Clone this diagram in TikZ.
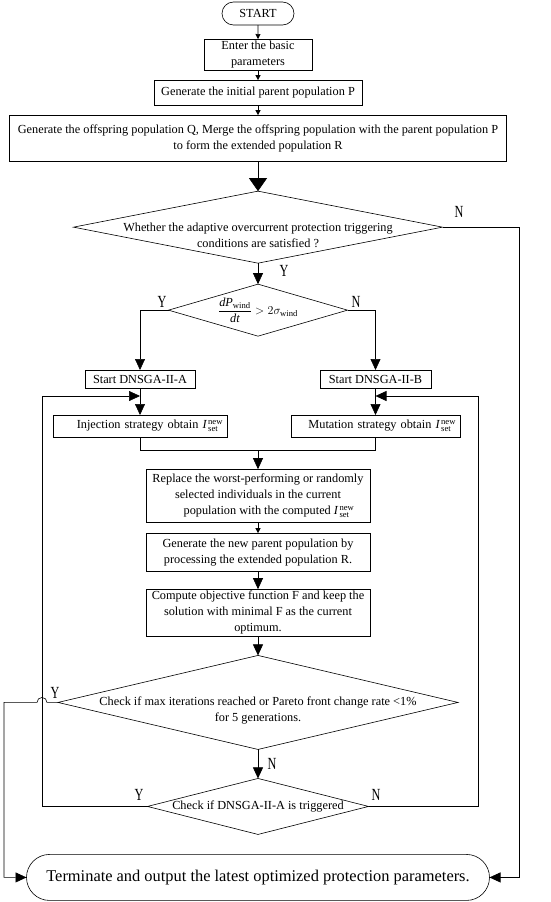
\documentclass[tikz,border=0pt]{standalone}
\usepackage{fontspec}
\setmainfont{Liberation Serif}
\usepackage{graphicx}
\usetikzlibrary{shapes.geometric, shapes.misc, arrows.meta}
\usetikzlibrary{positioning, calc}

\newcommand{\fs}{\fontsize{12.3}{16}\selectfont}
\newcommand{\Inew}{$\mathit{I}^{\,\mathrm{new}}_{\,\mathrm{set}}$}
\newcommand{\yn}[1]{\scalebox{0.72}[1]{#1}}

\tikzset{
  base/.style={draw, line width=0.6pt, font=\fs, align=center, inner sep=2pt, outer sep=0pt},
  proc/.style={base, rectangle},
  term/.style={base, rounded rectangle},
  dec/.style={base, diamond, inner sep=0pt},
  arr/.style={-{Triangle[length=11pt,width=10pt]}},
  barr/.style={-{Triangle[length=13pt,width=18pt]}},
  sarr/.style={-{Triangle[length=5pt,width=5pt]}},
  lbl/.style={font=\fontsize{17}{17}\selectfont, inner sep=0pt}
}

\begin{document}
\begin{tikzpicture}[x=1pt, y=-1pt, line width=0.6pt]
   \useasboundingbox (0,0) rectangle (550,902);
   % Drawing goes here
   \node[term, minimum width=76pt, minimum height=23pt] (start) at (258,13.5) {START};
   \node[proc, minimum width=108pt, minimum height=31pt, below = 14pt of start] (enter) {Enter the basic\\parameters};
   \node[proc, minimum width=208pt, minimum height=25pt, below = 10pt of enter] (init) {Generate the initial parent population P};
   \node[proc, minimum width=497pt, minimum height=46pt, below = 10pt of init] (offs) {Generate the offspring population Q, Merge the offspring population with the parent population P\\to form the extended population R};
   \node[dec, minimum width=369pt, minimum height=72pt, below = 30pt of offs,
         label={[font=\fs, align=center, yshift=-8pt]center:Whether the adaptive overcurrent protection triggering\\conditions are satisfied ?}] (d1) {};
   \node[dec, minimum width=179pt, minimum height=52pt, below = 21pt of d1,
         label={[font=\fs]center:$\displaystyle\frac{\mathit{dP}_{\mathrm{wind}}}{\mathit{dt}}>2\sigma_{\mathrm{wind}}$}] (d2) {};
   \node[proc, minimum width=110pt, minimum height=18pt, inner sep=1pt] (sa) at (140,379) {Start DNSGA-II-A};
   \node[proc, minimum width=111pt, minimum height=18pt, inner sep=1pt] (sb) at (375.5,379) {Start DNSGA-II-B};
   \node[proc, text width=166pt, inner xsep=4pt, align=right, minimum height=22pt, below = 27pt of sa] (inj) {Injection strategy obtain \Inew};
   \node[proc, text width=161pt, inner xsep=4pt, align=right, minimum height=22pt, below = 27pt of sb] (mut) {Mutation strategy obtain \Inew};
   \node[proc, minimum width=224pt, minimum height=53pt, below = 133pt of d2] (rep) {Replace the worst-performing or randomly\\selected individuals in the current\\\hspace*{22pt}population with the computed \Inew};
   \node[proc, minimum width=224pt, minimum height=38pt, below = 11pt of rep] (gen) {Generate the new parent population by\\processing the extended population R.};
   \node[proc, minimum width=224pt, minimum height=46pt, below = 18pt of gen] (comp) {Compute objective function F and keep the\\solution with minimal F as the current\\optimum.};
   \node[dec, minimum width=400pt, minimum height=94pt, below = 19pt of comp,
         label={[font=\fs, align=center, yshift=-8pt]center:Check if max iterations reached or Pareto front change rate <1\%\\for 5 generations.}] (d3) {};
   \node[dec, minimum width=221pt, minimum height=56pt, below = 29pt of d3,
         label={[font=\fs]center:Check if DNSGA-II-A is triggered}] (d4) {};
   \node[term, minimum width=467pt, minimum height=46pt, font=\fontsize{16.4}{18}\selectfont, below = 20pt of d4] (term) {Terminate and output the latest optimized protection parameters.};

   % Corner points of the side lines
   \coordinate (nr) at (519,0);
   \coordinate (yl) at (4,0);
   \coordinate (la) at (42,396);
   \coordinate (lb) at (478,396);
   \coordinate (mrg) at ($(inj.south)+(0,13)$);

   % Y / N labels
   \node[lbl] (nd1) at (459,212) {\yn{N}};
   \node[lbl] (yd1) at (284,271) {\yn{Y}};
   \node[lbl] (yd2) at (162,302) {\yn{Y}};
   \node[lbl] (nd2) at (356,302) {\yn{N}};
   \node[lbl] (yd3) at (55,693) {\yn{Y}};
   \node[lbl] (nd3) at (272,764) {\yn{N}};
   \node[lbl] (yd4) at (139,795) {\yn{Y}};
   \node[lbl] (nd4) at (376,795) {\yn{N}};

   % Connect the boxes with arrows
   \draw[sarr] (start) edge (enter) (enter) edge (init) (init) edge (offs) (rep) edge (gen);
   \draw[barr] (offs) -- (d1);
   \draw[arr] (d1) edge (d2) (sa) edge (inj) (sb) edge (mut) (gen) edge (comp) (comp) edge (d3) (d3) edge (d4);
   \draw[arr] (d2.west) -| (sa.north);
   \draw[arr] (d2.east) -| (sb.north);
   \draw (inj.south) -- (mrg) -| (mut.south);
   \draw[arr] (mrg -| rep.north) -- (rep.north);
   \draw[arr] (d1.east) -- (d1.east -| nr) |- (term.east);
   \draw[arr] (d3.west) -- ++(-11,0) arc[start angle=0, end angle=180, radius=5pt] -- (yl |- d3.west) |- (term.west);
   \draw[arr] (d4.west) -| (la) -- (la -| sa.south);
   \draw[arr] (d4.east) -| (lb) -- (lb -| sb.south);
\end{tikzpicture}
\end{document}
